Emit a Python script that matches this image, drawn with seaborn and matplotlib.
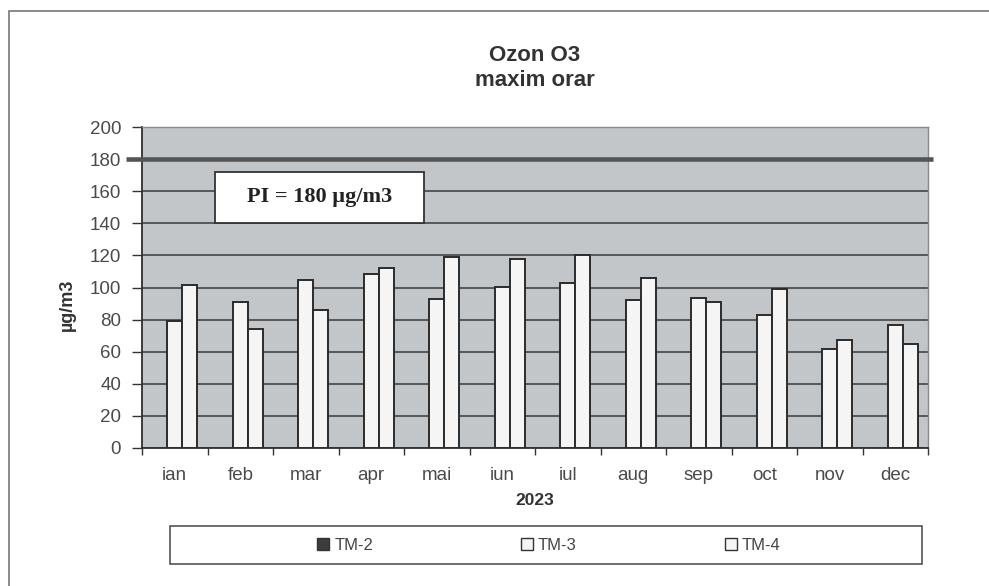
import matplotlib
matplotlib.use("Agg")
import matplotlib.pyplot as plt
from matplotlib.patches import Patch, Rectangle
import pandas as pd
import seaborn as sns

# valori (ug/m3), TM-2 fara date
months = ["ian", "feb", "mar", "apr", "mai", "iun", "iul", "aug", "sep", "oct", "nov", "dec"]
stations = ["TM-2", "TM-3", "TM-4"]
tm3 = [79, 91, 104.5, 108.5, 93, 100.5, 103, 92, 93.5, 83, 61.5, 76.5]
tm4 = [101.5, 74, 86, 112, 119, 117.5, 120.5, 106, 91, 99, 67.5, 65]
limit_pi = 180
y_ticks = list(range(0, 201, 20))

df = pd.DataFrame({
    "luna": months * 2,
    "statie": ["TM-3"] * len(tm3) + ["TM-4"] * len(tm4),
    "val": tm3 + tm4,
})

sns.set_style("white")
plt.rcParams["font.family"] = ["Liberation Sans", "DejaVu Sans"]

W, H = 989, 586
fig = plt.figure(figsize=(W / 100, H / 100), dpi=100)
ax = fig.add_axes([142 / W, 1 - 448 / H, 786 / W, 321 / H])

palette = {"TM-2": "#3c3c3c", "TM-3": "#f5f5f5", "TM-4": "#f5f5f5"}
sns.barplot(ax=ax, data=df, x="luna", y="val", hue="statie", hue_order=stations,
            order=months, palette=palette, saturation=1, width=0.69,
            edgecolor="#2b2b2b", linewidth=1.4, errorbar=None, legend=False)

ax.set_facecolor("#c3c6c8")
ax.set_ylim(0, 200)
ax.set_xlim(-0.5, len(months) - 0.5)
ax.set_yticks(y_ticks)
ax.grid(axis="y", color="#3a3a3a", lw=1.1)
ax.grid(axis="x", visible=False)
ax.set_axisbelow(True)

# linia pragului de informare
ax.plot([-0.02, 1.006], [limit_pi, limit_pi], transform=ax.get_yaxis_transform(),
        clip_on=False, lw=3.3, color="#555555", zorder=3, solid_capstyle="butt")
ax.add_patch(Rectangle((0.0929, 0.701), 0.266, 0.159, transform=ax.transAxes,
                       facecolor="white", edgecolor="#333333", lw=1.3, zorder=4))
ax.text(0.2265, 0.782, "PI = 180 µg/m3", transform=ax.transAxes, ha="center", va="center",
        fontsize=16, fontweight="bold", family=["Liberation Serif", "DejaVu Serif"],
        color="#222222", zorder=5)

ax.set_xticks(range(len(months)))
ax.set_xticklabels(months)
ax.set_xticks([i - 0.5 for i in range(len(months) + 1)], minor=True)
ax.tick_params(axis="x", which="major", length=0, pad=14, labelsize=13.5, labelcolor="#4a4a4a")
ax.tick_params(axis="x", which="minor", bottom=True, length=5, width=1, color="#333333", direction="out")
ax.tick_params(axis="y", left=True, length=7, width=1, color="#333333", direction="out",
               pad=8, labelsize=13.5, labelcolor="#4a4a4a")

for s in ["left", "bottom"]:
    ax.spines[s].set_color("#2f2f2f")
    ax.spines[s].set_linewidth(1.3)
for s in ["top", "right"]:
    ax.spines[s].set_color("#8a8a8a")
    ax.spines[s].set_linewidth(1)

ax.set_ylabel("µg/m3", fontsize=13, fontweight="bold", color="#333333")
ax.yaxis.set_label_coords(-0.084, 0.445)
ax.set_xlabel("2023", fontsize=12.5, fontweight="bold", color="#333333")
ax.xaxis.set_label_coords(0.5, -0.14)

fig.text(535 / W, 1 - 68 / H, "Ozon O3\nmaxim orar", ha="center", va="center",
         fontsize=16, fontweight="bold", color="#333333", linespacing=1.3)

# legenda intr-un cadru lat, sub grafic
fig.add_artist(Rectangle((170 / W, 1 - 564 / H), 752 / W, 38 / H, transform=fig.transFigure,
                         facecolor="white", edgecolor="#555555", lw=1.2))
handles = [Patch(facecolor=palette[s], edgecolor="#333333", lw=1) for s in stations]
fig.legend(handles, stations, loc="center", bbox_to_anchor=(549 / W, 1 - 545 / H), ncol=3,
           frameon=False, fontsize=12, handlelength=0.7, handleheight=0.7,
           handletextpad=0.3, columnspacing=8.9, labelcolor="#444444")

# cadrul exterior al figurii
fig.add_artist(Rectangle((9 / W, -0.1), 1.2, 1.1 - 11 / H, transform=fig.transFigure,
                         fill=False, edgecolor="#777777", lw=1.2))

fig.savefig("out.png", dpi=100)
